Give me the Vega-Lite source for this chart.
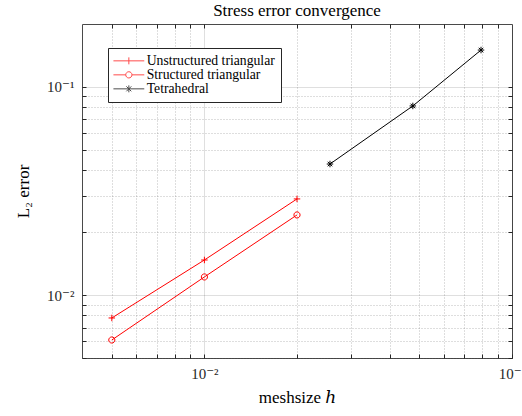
{
  "$schema": "https://vega.github.io/schema/vega-lite/v6.json",
  "width": 430,
  "height": 334,
  "autosize": {"type": "none"},
  "padding": {"left": 82, "top": 24, "right": 10, "bottom": 58},
  "background": "white",
  "config": {
    "view": {"stroke": "#4a4a4a", "strokeWidth": 1},
    "font": "Liberation Serif"
  },
  "title": {
    "text": "Stress error convergence",
    "font": "Liberation Serif",
    "fontSize": 17,
    "fontWeight": "normal",
    "color": "#000000",
    "anchor": "middle",
    "offset": 4
  },
  "data": {
    "values": [
      {"series": "Unstructured triangular", "h": 0.005, "err": 0.00778},
      {"series": "Unstructured triangular", "h": 0.01, "err": 0.01476},
      {"series": "Unstructured triangular", "h": 0.02, "err": 0.02897},
      {"series": "Structured triangular", "h": 0.005, "err": 0.0061},
      {"series": "Structured triangular", "h": 0.01, "err": 0.01224},
      {"series": "Structured triangular", "h": 0.02, "err": 0.02427},
      {"series": "Tetrahedral", "h": 0.0256, "err": 0.0426},
      {"series": "Tetrahedral", "h": 0.0476, "err": 0.0809},
      {"series": "Tetrahedral", "h": 0.0793, "err": 0.150}
    ]
  },
  "resolve": {
    "scale": {"shape": "independent", "color": "independent"},
    "axis": {"x": "independent", "y": "independent"}
  },
  "layer": [
    {
      "mark": {"type": "line", "strokeWidth": 1},
      "encoding": {
        "x": {
          "field": "h",
          "type": "quantitative",
          "scale": {"type": "log", "domain": [0.004, 0.1], "nice": false},
          "axis": {
            "orient": "bottom",
            "values": [0.005, 0.006, 0.007, 0.008, 0.009, 0.01, 0.02, 0.03, 0.04, 0.05, 0.06, 0.07, 0.08, 0.09, 0.1],
            "labelExpr": "datum.value == 0.01 ? '10⁻²' : (datum.value == 0.1 ? '10⁻¹' : '')",
            "title": "meshsize ℎ",
            "grid": true,
            "gridColor": "#262626",
            "gridOpacity": {"condition": {"test": "datum.value == 0.01 || datum.value == 0.1", "value": 0.15}, "value": 0.3},
            "gridDash": {"condition": {"test": "datum.value == 0.01 || datum.value == 0.1", "value": []}, "value": [1, 2]},
            "domain": false,
            "ticks": true,
            "tickSize": -4,
            "tickColor": "#262626",
            "labelFont": "Liberation Serif, DejaVu Serif",
            "labelFontSize": 15,
            "labelColor": "#262626",
            "labelPadding": 12,
            "labelFlush": false,
            "labelOverlap": false,
            "labelBound": false,
            "titleFont": "Liberation Serif, DejaVu Serif",
            "titleFontSize": 17,
            "titleFontWeight": "normal",
            "titleColor": "#000000",
            "titlePadding": 8
          }
        },
        "y": {
          "field": "err",
          "type": "quantitative",
          "scale": {"type": "log", "domain": [0.005, 0.2], "nice": false},
          "axis": {
            "orient": "left",
            "values": [0.005, 0.006, 0.007, 0.008, 0.009, 0.01, 0.02, 0.03, 0.04, 0.05, 0.06, 0.07, 0.08, 0.09, 0.1],
            "labelExpr": "datum.value == 0.01 ? '10⁻²' : (datum.value == 0.1 ? '10⁻¹' : '')",
            "title": "L₂ error",
            "grid": true,
            "gridColor": "#262626",
            "gridOpacity": {"condition": {"test": "datum.value == 0.01 || datum.value == 0.1", "value": 0.15}, "value": 0.3},
            "gridDash": {"condition": {"test": "datum.value == 0.01 || datum.value == 0.1", "value": []}, "value": [1, 2]},
            "domain": false,
            "ticks": true,
            "tickSize": -4,
            "tickColor": "#262626",
            "labelFont": "Liberation Serif, DejaVu Serif",
            "labelFontSize": 15,
            "labelColor": "#262626",
            "labelPadding": 12,
            "labelFlush": false,
            "labelOverlap": false,
            "labelBound": false,
            "titleFont": "Liberation Serif, DejaVu Serif",
            "titleFontSize": 17,
            "titleFontWeight": "normal",
            "titleColor": "#000000",
            "titlePadding": 14
          }
        },
        "color": {
          "field": "series",
          "type": "nominal",
          "scale": {"domain": ["Unstructured triangular", "Structured triangular", "Tetrahedral"], "range": ["#ff0000", "#ff0000", "#000000"]},
          "legend": null
        }
      }
    },
    {
      "mark": {"type": "point", "filled": false, "strokeWidth": 1, "size": 42, "opacity": 1},
      "encoding": {
        "x": {
          "field": "h",
          "type": "quantitative",
          "axis": {
            "orient": "top",
            "values": [0.005, 0.006, 0.007, 0.008, 0.009, 0.01, 0.02, 0.03, 0.04, 0.05, 0.06, 0.07, 0.08, 0.09],
            "labels": false,
            "title": null,
            "grid": false,
            "domain": false,
            "tickSize": -4,
            "tickColor": "#262626"
          }
        },
        "y": {
          "field": "err",
          "type": "quantitative",
          "axis": {
            "orient": "right",
            "values": [0.005, 0.006, 0.007, 0.008, 0.009, 0.01, 0.02, 0.03, 0.04, 0.05, 0.06, 0.07, 0.08, 0.09, 0.1],
            "labels": false,
            "title": null,
            "grid": false,
            "domain": false,
            "tickSize": -4,
            "tickColor": "#262626"
          }
        },
        "color": {
          "field": "series",
          "type": "nominal",
          "scale": {"domain": ["Unstructured triangular", "Structured triangular", "Tetrahedral"], "range": ["#ff0000", "#ff0000", "#000000"]},
          "legend": null
        },
        "shape": {
          "field": "series",
          "type": "nominal",
          "scale": {
            "domain": ["Unstructured triangular", "Structured triangular", "Tetrahedral"],
            "range": [
              "M-1,0H1M0,-1V1",
              "M-0.95,0A0.95,0.95 0 1,0 0.95,0A0.95,0.95 0 1,0 -0.95,0Z",
              "M-1,0H1M0,-1V1M-0.7,-0.7L0.7,0.7M-0.7,0.7L0.7,-0.7"
            ]
          },
          "legend": null
        }
      }
    },
    {
      "mark": {"type": "point", "filled": false, "strokeWidth": 1, "size": 0},
      "encoding": {
        "x": {"field": "h", "type": "quantitative", "axis": null},
        "y": {"field": "err", "type": "quantitative", "axis": null},
        "color": {
          "field": "series",
          "type": "nominal",
          "scale": {"domain": ["Unstructured triangular", "Structured triangular", "Tetrahedral"], "range": ["#ff0000", "#ff0000", "#000000"]},
          "legend": {
            "title": null,
            "orient": "none",
            "legendX": 26,
            "legendY": 24,
            "padding": 6,
            "strokeColor": "#262626",
            "fillColor": "white",
            "cornerRadius": 0,
            "symbolSize": 144,
            "symbolStrokeWidth": 1,
            "symbolOffset": 8,
            "labelOffset": 11,
            "rowPadding": -1,
            "labelFont": "Liberation Serif",
            "labelFontSize": 13.7,
            "labelColor": "#000000",
            "labelLimit": 300
          }
        },
        "shape": {
          "field": "series",
          "type": "nominal",
          "scale": {
            "domain": ["Unstructured triangular", "Structured triangular", "Tetrahedral"],
            "range": [
              "M-2.57,0H2.57M0,-0.58V0.58",
              "M-2.57,0H-0.52M0.52,0H2.57M-0.52,0A0.52,0.52 0 1,0 0.52,0A0.52,0.52 0 1,0 -0.52,0Z",
              "M-2.57,0H2.57M0,-0.58V0.58M-0.41,-0.41L0.41,0.41M-0.41,0.41L0.41,-0.41"
            ]
          },
          "legend": {
            "title": null,
            "orient": "none",
            "legendX": 26,
            "legendY": 24,
            "padding": 6,
            "strokeColor": "#262626",
            "fillColor": "white",
            "cornerRadius": 0,
            "symbolSize": 144,
            "symbolStrokeWidth": 1,
            "symbolOffset": 8,
            "labelOffset": 11,
            "rowPadding": -1,
            "labelFont": "Liberation Serif",
            "labelFontSize": 13.7,
            "labelColor": "#000000",
            "labelLimit": 300
          }
        }
      }
    }
  ]
}
